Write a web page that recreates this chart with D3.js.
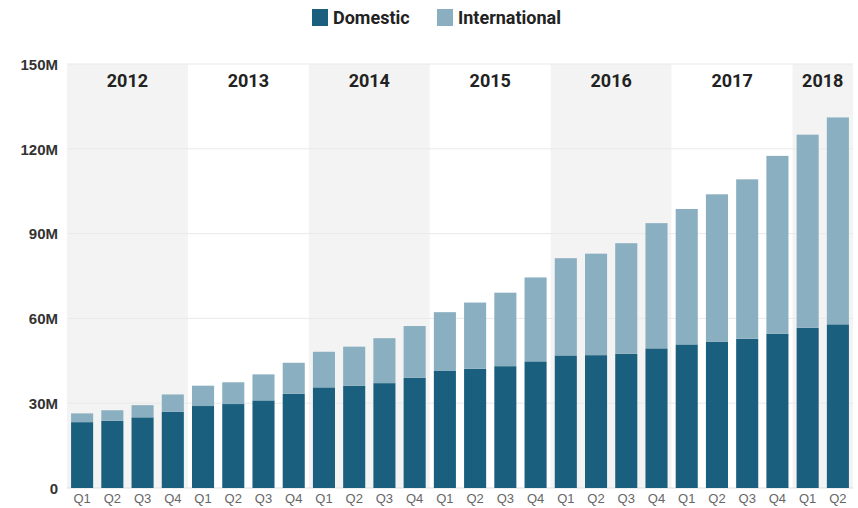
<!DOCTYPE html>
<html>
<head>
<meta charset="utf-8">
<script src="https://cdn.jsdelivr.net/npm/d3@7"></script>
<style>
    body { margin: 0; background: #fff; font-family: Roboto, "Noto Sans", sans-serif; }
    .legend text { font-size: 18px; font-weight: 700; fill: #222; }
    .y-axis text { font-size: 15px; font-weight: 700; fill: #333; }
    .x-axis text { font-size: 13px; fill: #666; }
    .year { font-size: 18px; font-weight: 700; fill: #222; }
</style>
</head>
<body>
<div id="chart"></div>
<script>
const quarters = ["Q1", "Q2", "Q3", "Q4", "Q1", "Q2", "Q3", "Q4", "Q1", "Q2", "Q3", "Q4",
    "Q1", "Q2", "Q3", "Q4", "Q1", "Q2", "Q3", "Q4", "Q1", "Q2", "Q3", "Q4", "Q1", "Q2"]
const years = ["2012", "2012", "2012", "2012", "2013", "2013", "2013", "2013", "2014", "2014", "2014", "2014",
    "2015", "2015", "2015", "2015", "2016", "2016", "2016", "2016", "2017", "2017", "2017", "2017", "2018", "2018"]
// millions of subscribers
const domestic = [23.3, 23.8, 25.0, 27.0, 29.0, 29.7, 31.0, 33.3, 35.6, 36.2, 37.1, 39.0,
    41.4, 42.2, 43.1, 44.8, 46.9, 47.0, 47.5, 49.4, 50.8, 51.8, 52.8, 54.6, 56.7, 57.9]
const international = [3.1, 3.7, 4.3, 6.1, 7.2, 7.7, 9.2, 11.0, 12.6, 13.8, 15.9, 18.3,
    20.8, 23.4, 26.0, 29.7, 34.4, 35.9, 39.1, 44.3, 47.9, 52.1, 56.4, 62.9, 68.3, 73.2]
const yTicks = [0, 30, 60, 90, 120, 150]
const seriesNames = ["Domestic", "International"]
const colors = ["#1b5f7e", "#8aafc0"]

const width = 858, height = 508
const margin = { top: 64, right: 5, bottom: 20, left: 67 }

const data = quarters.map((q, i) => ({
    key: years[i] + q, q: q, year: years[i],
    Domestic: domestic[i], International: international[i]
}))

const svg = d3.select("#chart").append("svg")
    .attr("width", width)
    .attr("height", height)

const x = d3.scaleBand()
    .domain(data.map(d => d.key))
    .range([margin.left, width - margin.right])
    .paddingInner(0.27)
    .paddingOuter(0.135)

const y = d3.scaleLinear()
    .domain([0, 150])
    .range([height - margin.bottom, margin.top])

// year bands
const yearList = Array.from(new Set(years))
const step = x.step()
const bandStart = yr => x(data.find(d => d.year === yr).key) - x.paddingOuter() * step
const bandEnd = yr => {
    const last = data.filter(d => d.year === yr).pop()
    return x(last.key) + x.bandwidth() + x.paddingOuter() * step
}

svg.append("g")
    .selectAll("rect")
    .data(yearList)
    .join("rect")
    .attr("x", d => bandStart(d))
    .attr("y", y(150))
    .attr("width", d => bandEnd(d) - bandStart(d))
    .attr("height", y(0) - y(150))
    .attr("fill", (d, i) => i % 2 === 0 ? "#f3f3f3" : "#fff")

// gridlines
svg.append("g")
    .selectAll("line")
    .data(yTicks)
    .join("line")
    .attr("x1", margin.left)
    .attr("x2", width - margin.right)
    .attr("y1", d => y(d))
    .attr("y2", d => y(d))
    .attr("stroke", d => d === 0 ? "#ddd" : "#e9e9e9")
    .attr("stroke-width", 1)

svg.append("g")
    .selectAll("text")
    .data(yearList)
    .join("text")
    .attr("class", "year")
    .attr("x", d => (bandStart(d) + bandEnd(d)) / 2)
    .attr("y", y(150) + 23)
    .attr("text-anchor", "middle")
    .text(d => d)

// stacked bars
const stack = d3.stack().keys(seriesNames)(data)

svg.append("g")
    .selectAll("g")
    .data(stack)
    .join("g")
    .attr("fill", (d, i) => colors[i])
    .selectAll("rect")
    .data(d => d)
    .join("rect")
    .attr("x", d => x(d.data.key))
    .attr("y", d => y(d[1]))
    .attr("width", x.bandwidth())
    .attr("height", d => y(d[0]) - y(d[1]))

// axes
const yAxis = svg.append("g")
    .attr("class", "y-axis")
    .attr("transform", `translate(${margin.left - 6},0)`)
    .call(d3.axisLeft(y).tickValues(yTicks).tickSize(0).tickFormat(d => d === 0 ? "0" : d + "M"))
yAxis.select(".domain").remove()
yAxis.selectAll("text").attr("dy", "0.35em")

const xAxis = svg.append("g")
    .attr("class", "x-axis")
    .attr("transform", `translate(0,${y(0)})`)
    .call(d3.axisBottom(x).tickSize(0).tickFormat((d, i) => quarters[i]))
xAxis.select(".domain").remove()
xAxis.selectAll("text").attr("dy", "0.9em")

// legend
const legend = svg.append("g").attr("class", "legend")
const legendX = [312, 437]
seriesNames.forEach((name, i) => {
    legend.append("rect")
        .attr("x", legendX[i])
        .attr("y", 9)
        .attr("width", 16)
        .attr("height", 17)
        .attr("fill", colors[i])
    legend.append("text")
        .attr("x", legendX[i] + 21)
        .attr("y", 24)
        .text(name)
})
</script>
</body>
</html>
